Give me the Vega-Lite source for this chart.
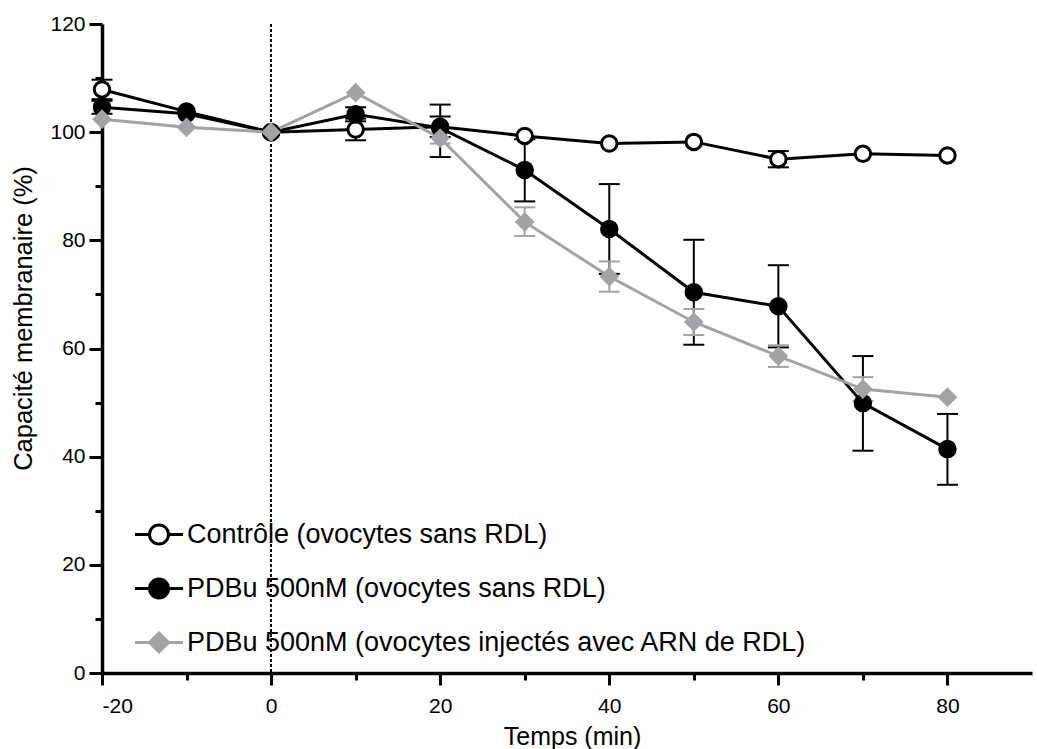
{
  "$schema": "https://vega.github.io/schema/vega-lite/v6.json",
  "width": 930,
  "height": 649,
  "autosize": {"type": "none"},
  "padding": {"left": 102, "top": 24, "right": 5, "bottom": 76},
  "background": "white",
  "config": {
    "view": {"stroke": null},
    "font": "Liberation Sans",
    "axis": {"grid": false, "domainColor": "black", "tickColor": "black", "labelColor": "black", "titleColor": "black", "labelFont": "Liberation Sans", "titleFont": "Liberation Sans", "titleFontWeight": "normal"},
    "legend": {"labelFont": "Liberation Sans", "labelColor": "black"}
  },
  "data": {
    "values": [
      {"s": "Contrôle (ovocytes sans RDL)", "t": -20, "v": 107.9, "lo": 106.1, "hi": 109.7},
      {"s": "Contrôle (ovocytes sans RDL)", "t": -10, "v": 103.8, "lo": null, "hi": null},
      {"s": "Contrôle (ovocytes sans RDL)", "t": 0, "v": 100, "lo": null, "hi": null},
      {"s": "Contrôle (ovocytes sans RDL)", "t": 10, "v": 100.5, "lo": 98.5, "hi": 102.5},
      {"s": "Contrôle (ovocytes sans RDL)", "t": 20, "v": 101.0, "lo": 99.1, "hi": 102.9},
      {"s": "Contrôle (ovocytes sans RDL)", "t": 30, "v": 99.3, "lo": null, "hi": null},
      {"s": "Contrôle (ovocytes sans RDL)", "t": 40, "v": 97.9, "lo": null, "hi": null},
      {"s": "Contrôle (ovocytes sans RDL)", "t": 50, "v": 98.2, "lo": null, "hi": null},
      {"s": "Contrôle (ovocytes sans RDL)", "t": 60, "v": 95.0, "lo": 93.5, "hi": 96.5},
      {"s": "Contrôle (ovocytes sans RDL)", "t": 70, "v": 96.0, "lo": null, "hi": null},
      {"s": "Contrôle (ovocytes sans RDL)", "t": 80, "v": 95.7, "lo": null, "hi": null},
      {"s": "PDBu 500nM (ovocytes sans RDL)", "t": -20, "v": 104.6, "lo": 103.4, "hi": 105.8},
      {"s": "PDBu 500nM (ovocytes sans RDL)", "t": -10, "v": 103.4, "lo": null, "hi": null},
      {"s": "PDBu 500nM (ovocytes sans RDL)", "t": 0, "v": 100, "lo": null, "hi": null},
      {"s": "PDBu 500nM (ovocytes sans RDL)", "t": 10, "v": 103.3, "lo": 102.0, "hi": 104.6},
      {"s": "PDBu 500nM (ovocytes sans RDL)", "t": 20, "v": 100.8, "lo": 95.4, "hi": 105.1},
      {"s": "PDBu 500nM (ovocytes sans RDL)", "t": 30, "v": 93.0, "lo": 87.2, "hi": 98.7},
      {"s": "PDBu 500nM (ovocytes sans RDL)", "t": 40, "v": 82.1, "lo": 73.8, "hi": 90.4},
      {"s": "PDBu 500nM (ovocytes sans RDL)", "t": 50, "v": 70.4, "lo": 60.7, "hi": 80.1},
      {"s": "PDBu 500nM (ovocytes sans RDL)", "t": 60, "v": 67.8, "lo": 60.2, "hi": 75.4},
      {"s": "PDBu 500nM (ovocytes sans RDL)", "t": 70, "v": 49.9, "lo": 41.1, "hi": 58.6},
      {"s": "PDBu 500nM (ovocytes sans RDL)", "t": 80, "v": 41.4, "lo": 34.8, "hi": 47.9},
      {"s": "PDBu 500nM (ovocytes injectés avec ARN de RDL)", "t": -20, "v": 102.4, "lo": null, "hi": null},
      {"s": "PDBu 500nM (ovocytes injectés avec ARN de RDL)", "t": -10, "v": 100.9, "lo": null, "hi": null},
      {"s": "PDBu 500nM (ovocytes injectés avec ARN de RDL)", "t": 0, "v": 100, "lo": null, "hi": null},
      {"s": "PDBu 500nM (ovocytes injectés avec ARN de RDL)", "t": 10, "v": 107.3, "lo": null, "hi": null},
      {"s": "PDBu 500nM (ovocytes injectés avec ARN de RDL)", "t": 20, "v": 98.9, "lo": 97.9, "hi": 99.9},
      {"s": "PDBu 500nM (ovocytes injectés avec ARN de RDL)", "t": 30, "v": 83.4, "lo": 80.8, "hi": 86.1},
      {"s": "PDBu 500nM (ovocytes injectés avec ARN de RDL)", "t": 40, "v": 73.3, "lo": 70.5, "hi": 76.1},
      {"s": "PDBu 500nM (ovocytes injectés avec ARN de RDL)", "t": 50, "v": 64.9, "lo": 62.5, "hi": 67.3},
      {"s": "PDBu 500nM (ovocytes injectés avec ARN de RDL)", "t": 60, "v": 58.6, "lo": 56.6, "hi": 60.6},
      {"s": "PDBu 500nM (ovocytes injectés avec ARN de RDL)", "t": 70, "v": 52.5, "lo": 50.3, "hi": 54.7},
      {"s": "PDBu 500nM (ovocytes injectés avec ARN de RDL)", "t": 80, "v": 51.0, "lo": null, "hi": null}
    ]
  },
  "resolve": {
    "axis": {"x": "independent", "y": "independent"},
    "scale": {"shape": "independent", "stroke": "independent", "fill": "independent"}
  },
  "layer": [
    {
      "mark": {"type": "rule", "color": "black", "strokeWidth": 1.2, "strokeDash": [3, 2]},
      "encoding": {
        "x": {"datum": 0, "type": "quantitative", "scale": {"domain": [-20, 90], "nice": false, "zero": false},
          "axis": {"orient": "bottom", "values": [-10, 10, 30, 50, 70], "labels": false, "domain": false, "tickSize": 7, "tickWidth": 3, "title": null}}
      }
    },
    {
      "mark": {"type": "rule", "strokeWidth": 2},
      "encoding": {
        "x": {"field": "t", "type": "quantitative", "axis": null},
        "y": {"field": "lo", "type": "quantitative", "scale": {"domain": [0, 120], "nice": false},
          "axis": {"orient": "left", "values": [10, 30, 50, 70, 90, 110], "labels": false, "domain": false, "tickSize": 7, "tickWidth": 3, "title": null}},
        "y2": {"field": "hi"},
        "color": {"field": "s", "type": "nominal", "legend": null,
          "scale": {"domain": ["PDBu 500nM (ovocytes injectés avec ARN de RDL)", "PDBu 500nM (ovocytes sans RDL)", "Contrôle (ovocytes sans RDL)"], "range": ["#a3a3a7", "black", "black"]}}
      }
    },
    {
      "mark": {"type": "point", "shape": "M-1,0L1,0", "size": 441, "strokeWidth": 2, "opacity": 1, "filled": false},
      "encoding": {
        "x": {"field": "t", "type": "quantitative", "axis": null},
        "y": {"field": "lo", "type": "quantitative", "axis": null},
        "color": {"field": "s", "type": "nominal", "legend": null}
      }
    },
    {
      "mark": {"type": "point", "shape": "M-1,0L1,0", "size": 441, "strokeWidth": 2, "opacity": 1, "filled": false},
      "encoding": {
        "x": {"field": "t", "type": "quantitative", "axis": null},
        "y": {"field": "hi", "type": "quantitative", "axis": null},
        "color": {"field": "s", "type": "nominal", "legend": null}
      }
    },
    {
      "mark": {"type": "line", "strokeWidth": 3},
      "encoding": {
        "x": {"field": "t", "type": "quantitative",
          "axis": {"orient": "bottom", "values": [-20, 0, 20, 40, 60, 80], "tickSize": 12, "tickWidth": 3, "domainWidth": 3.5, "labelFontSize": 21, "labelPadding": 10, "labelExpr": "datum.value < 0 ? '-' + (-datum.value) : '' + datum.value", "title": "Temps (min)", "titleFontSize": 25, "titleX": 470, "titleY": 51}},
        "y": {"field": "v", "type": "quantitative",
          "axis": {"orient": "left", "values": [0, 20, 40, 60, 80, 100, 120], "tickSize": 13, "tickWidth": 3, "domainWidth": 3.5, "labelFontSize": 21, "labelPadding": 4, "title": "Capacité membranaire (%)", "titleFontSize": 25.5, "titleX": -66, "titleY": 294}},
        "color": {"field": "s", "type": "nominal", "legend": null},
        "order": {"field": "t"}
      }
    },
    {
      "mark": {"type": "point", "filled": true, "opacity": 1, "size": 240, "strokeWidth": 3},
      "encoding": {
        "x": {"field": "t", "type": "quantitative", "axis": null},
        "y": {"field": "v", "type": "quantitative", "axis": null},
        "stroke": {"field": "s", "type": "nominal", "legend": null,
          "scale": {"domain": ["Contrôle (ovocytes sans RDL)", "PDBu 500nM (ovocytes sans RDL)", "PDBu 500nM (ovocytes injectés avec ARN de RDL)"], "range": ["black", "black", "#a3a3a7"]}},
        "fill": {"field": "s", "type": "nominal", "legend": null,
          "scale": {"domain": ["Contrôle (ovocytes sans RDL)", "PDBu 500nM (ovocytes sans RDL)", "PDBu 500nM (ovocytes injectés avec ARN de RDL)"], "range": ["white", "black", "#a3a3a7"]}},
        "shape": {"field": "s", "type": "nominal", "legend": null,
          "scale": {"domain": ["Contrôle (ovocytes sans RDL)", "PDBu 500nM (ovocytes sans RDL)", "PDBu 500nM (ovocytes injectés avec ARN de RDL)"], "range": ["circle", "circle", "diamond"]}}
      }
    },
    {
      "transform": [{"filter": "datum.t > 1000"}],
      "mark": {"type": "point", "filled": true, "opacity": 1, "size": 361, "strokeWidth": 3},
      "encoding": {
        "x": {"field": "t", "type": "quantitative", "axis": null},
        "y": {"field": "v", "type": "quantitative", "axis": null},
        "stroke": {"field": "s", "type": "nominal",
          "scale": {"domain": ["Contrôle (ovocytes sans RDL)", "PDBu 500nM (ovocytes sans RDL)", "PDBu 500nM (ovocytes injectés avec ARN de RDL)"], "range": ["black", "black", "#a3a3a7"]},
          "legend": {"title": null, "orient": "none", "legendX": 43.5, "legendY": 497, "padding": 0, "symbolSize": 361, "symbolStrokeWidth": 3, "labelFontSize": 27, "labelOffset": 14.5, "rowPadding": 23, "labelLimit": 700}},
        "fill": {"field": "s", "type": "nominal",
          "scale": {"domain": ["Contrôle (ovocytes sans RDL)", "PDBu 500nM (ovocytes sans RDL)", "PDBu 500nM (ovocytes injectés avec ARN de RDL)"], "range": ["white", "black", "#a3a3a7"]},
          "legend": {"title": null, "orient": "none", "legendX": 43.5, "legendY": 497, "padding": 0, "symbolSize": 361, "symbolStrokeWidth": 3, "labelFontSize": 27, "labelOffset": 14.5, "rowPadding": 23, "labelLimit": 700}},
        "shape": {"field": "s", "type": "nominal",
          "scale": {"domain": ["Contrôle (ovocytes sans RDL)", "PDBu 500nM (ovocytes sans RDL)", "PDBu 500nM (ovocytes injectés avec ARN de RDL)"], "range": ["M-2.53,0L-1,0M1,0L2.53,0M-1,0A1,1,0,1,1,1,0A1,1,0,1,1,-1,0Z", "M-2.53,0L-1,0M1,0L2.53,0M-1,0A1,1,0,1,1,1,0A1,1,0,1,1,-1,0Z", "M-2.53,0L-1,0M1,0L2.53,0M-1,0L0,-1L1,0L0,1Z"]},
          "legend": {"title": null, "orient": "none", "legendX": 43.5, "legendY": 497, "padding": 0, "symbolSize": 361, "symbolStrokeWidth": 3, "labelFontSize": 27, "labelOffset": 14.5, "rowPadding": 23, "labelLimit": 700}}
      }
    }
  ]
}
